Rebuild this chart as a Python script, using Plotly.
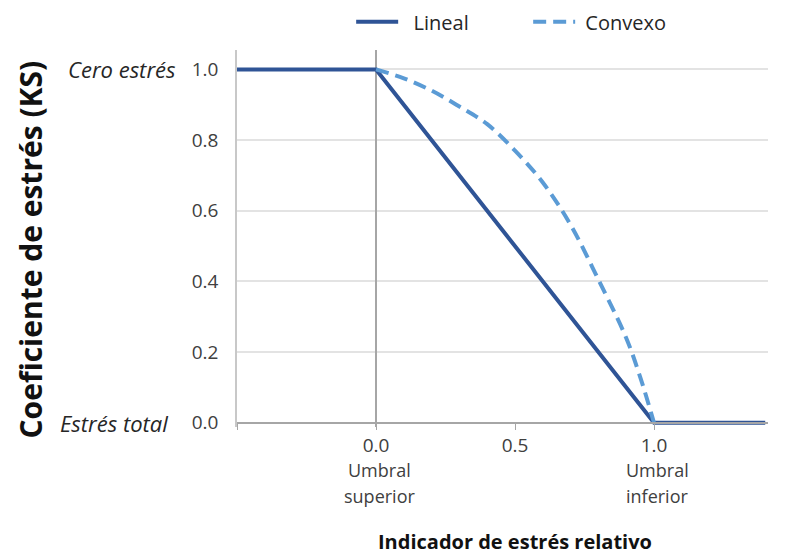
import plotly.graph_objects as go

# lineal (solid) shape
lineal_x = [-0.5, 0.0, 1.0, 1.4]
lineal_y = [1.0, 1.0, 0.0, 0.0]

# convex (dashed) shape
convexo_x = [0.0, 0.1, 0.2, 0.3, 0.4, 0.5, 0.6, 0.7, 0.8, 0.9, 0.95, 1.0]
convexo_y = [1.0, 0.975, 0.94, 0.895, 0.845, 0.77, 0.68, 0.56, 0.405, 0.24, 0.13, 0.0]

y_ticks = [0.0, 0.2, 0.4, 0.6, 0.8, 1.0]
x_ticks = [-0.5, 0.0, 0.5, 1.0]
x_ticklabels = ["", "0.0", "0.5", "1.0"]

font = "Open Sans, DejaVu Sans, sans-serif"
dark = "#2f5496"
light = "#5b9bd5"
textcolor = "#404040"

y_lo, y_hi = -0.012, 1.055

fig = go.Figure()
fig.add_trace(go.Scatter(
    x=lineal_x, y=lineal_y, mode="lines", name="\u00a0\u00a0Lineal",
    line=dict(color=dark, width=4),
))
fig.add_trace(go.Scatter(
    x=convexo_x, y=convexo_y, mode="lines", name="\u00a0Convexo",
    line=dict(color=light, width=4, dash="13px,7px", shape="spline"),
))

annots = [
    dict(text="<i>Cero estrés</i>", x=0, y=1.0, xanchor="right", xshift=-59),
    dict(text="<i>Estrés total</i>", x=0, y=0.0, xanchor="right", xshift=-67),
]
for a in annots:
    a.update(xref="paper", yref="y", yanchor="middle", showarrow=False,
             font=dict(size=22, color="#262626", family=font))

for xv, words in [(0.0, ["Umbral", "superior"]), (1.0, ["Umbral", "inferior"])]:
    for i, w in enumerate(words):
        annots.append(dict(text=w, x=xv, y=0, xref="x", yref="y", yanchor="middle",
                           xshift=3, yshift=-47 - 26 * i, showarrow=False,
                           font=dict(size=18, color=textcolor, family=font)))

annots.append(dict(text="<b>Coeficiente de estrés (KS)</b>", x=0, y=0.5, xref="paper", yref="paper",
                   xshift=-207, yshift=-11, xanchor="center", yanchor="middle", textangle=-90,
                   showarrow=False, font=dict(size=30, color="#111111", family=font)))
annots.append(dict(text="<b>Indicador de estrés relativo</b>", x=0.5235, y=0, xref="paper", yref="paper",
                   yshift=-114, xanchor="center", yanchor="middle", showarrow=False,
                   font=dict(size=20, color="#111111", family=font)))

# page has an 8px body margin, so everything sits 8px lower/right than the figure origin
fig.update_layout(
    width=785, height=554,
    margin=dict(l=229, r=25, t=42, b=135, autoexpand=False),
    plot_bgcolor="white", paper_bgcolor="white",
    font=dict(family=font, color=textcolor, size=19),
    legend=dict(orientation="h", x=0.215, xanchor="left", y=1.075, yanchor="middle",
                font=dict(size=20, color="#262626"), entrywidth=120, itemwidth=42),
    annotations=annots,
)
fig.update_xaxes(
    range=[-0.5, 1.41], tickvals=x_ticks, ticktext=x_ticklabels,
    anchor="free", position=-y_lo / (y_hi - y_lo),
    showline=True, linecolor="#a6a6a6", linewidth=1.5,
    ticks="outside", ticklen=6, tickcolor="#a6a6a6",
    showgrid=False, zeroline=True, zerolinecolor="#a6a6a6", zerolinewidth=1.5,
    tickfont=dict(size=19, color=textcolor),
)
fig.update_yaxes(
    range=[y_lo, y_hi], tickvals=y_ticks, tickformat=".1f",
    showline=True, linecolor="#c8c8c8", linewidth=1.5,
    showgrid=True, gridcolor="#e3e3e3", gridwidth=1.5,
    zeroline=False, ticklabelstandoff=13,
    tickfont=dict(size=19, color=textcolor),
)
fig.write_html("out.html")
